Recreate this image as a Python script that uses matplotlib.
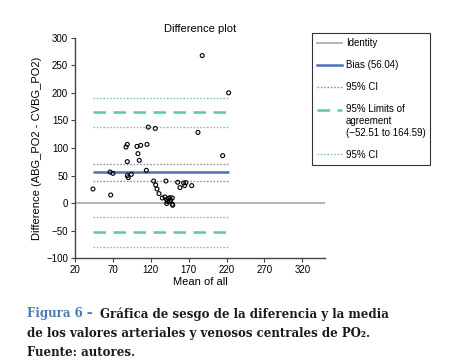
import matplotlib
matplotlib.use('Agg')
import matplotlib.pyplot as plt
from matplotlib.lines import Line2D
from matplotlib.legend_handler import HandlerLine2D

# mean of all (x) and difference (y)
mean_all = [43.7, 67.1, 66.2, 70.1, 87.3, 89.0, 89.0, 89.0, 90.3, 94.3,
            101.8, 103.1, 104.8, 106.7, 114.1, 115.0, 116.7, 125.9, 123.8, 126.5,
            128.2, 130.8, 135.2, 140.0, 155.5, 158.5, 163.4, 164.7, 166.4, 174.0,
            182.3, 214.9, 187.9, 222.8, 138.7, 141.0, 143.1, 145.3, 148.4, 141.8,
            144.4, 141.0, 148.4, 146.3, 149.0]
difference = [25.9, 15.0, 56.6, 54.2, 101.8, 106.7, 75.4, 50.0, 46.5, 52.4,
              103.0, 89.9, 77.8, 104.9, 59.7, 106.7, 138.0, 135.6, 40.3, 33.1,
              25.9, 17.5, 9.6, 40.3, 38.0, 28.4, 36.7, 32.0, 37.4, 32.0,
              128.4, 86.3, 267.6, 200.2, 11.4, 6.7, 8.5, 10.3, 9.6, 3.1,
              3.1, -0.5, -1.8, 5.4, -3.6]

bias = 56.04
bias_ci = [40.4, 71.6]
loa = [-52.51, 164.59]
loa_ci = [[-79.5, -25.5], [137.6, 191.6]]

x_ticks = [20, 70, 120, 170, 220, 270, 320]
y_ticks = [-100, -50, 0, 50, 100, 150, 200, 250, 300]

c_ident = '#a8a8a8'
c_bias = '#4a72b8'
c_bias_ci = '#8f8fb0'
c_loa = '#5ec4b6'
c_loa_ci = '#8cbcbc'


class RaisedLine(HandlerLine2D):
    # puts the handle on the first line of a multi-line label
    def __init__(self, shift, **kw):
        super().__init__(**kw)
        self.shift = shift

    def create_artists(self, legend, orig_handle, xdescent, ydescent,
                       width, height, fontsize, trans):
        arts = super().create_artists(legend, orig_handle, xdescent, ydescent,
                                      width, height, fontsize, trans)
        for a in arts:
            a.set_ydata([y + self.shift * fontsize for y in a.get_ydata()])
        return arts


plt.rcParams['font.family'] = ['Liberation Sans', 'DejaVu Sans']

fig = plt.figure(figsize=(4.5, 3.64), dpi=100)
ax = fig.add_axes([0.1667, 0.290, 0.5556, 0.6064])

x0, x1 = min(mean_all), max(mean_all)
ax.axhline(0, color=c_ident, lw=1.2, zorder=1)
ax.hlines(bias, x0, x1, color=c_bias, lw=1.8, zorder=2)
ax.hlines(bias_ci, x0, x1, color=c_bias_ci, lw=1.0, linestyles=(0, (1.2, 1.2)), zorder=2)
ax.hlines(loa, x0, x1, color=c_loa, lw=1.8, linestyles=(0, (5, 3)), zorder=2)
for ci in loa_ci:
    ax.hlines(ci, x0, x1, color=c_loa_ci, lw=1.0, linestyles=(0, (1.2, 1.2)), zorder=2)
ax.scatter(mean_all, difference, s=8, facecolors='none', edgecolors='black',
           linewidths=0.8, zorder=3)

ax.set_xlim(20, 350)
ax.set_ylim(-100, 300)
ax.set_xticks(x_ticks)
ax.set_yticks(y_ticks)
ax.set_yticklabels([str(v).replace('-', '\u2212') for v in y_ticks])
ax.tick_params(labelsize=7, length=3, width=0.8, color='#444444', pad=2)
for s in ['top', 'right']:
    ax.spines[s].set_visible(False)
for s in ['left', 'bottom']:
    ax.spines[s].set_color('#444444')
    ax.spines[s].set_linewidth(1.0)
ax.set_title('Difference plot', fontsize=8, pad=4)
ax.set_xlabel('Mean of all', fontsize=8, labelpad=1)
ax.set_ylabel('Difference (ABG_PO2 - CVBG_PO2)', fontsize=8, labelpad=3)

h_loa = Line2D([], [], color=c_loa, lw=1.8, ls=(0, (5, 3)))
handles = [
    Line2D([], [], color=c_ident, lw=1.2),
    Line2D([], [], color=c_bias, lw=1.8),
    Line2D([], [], color=c_bias_ci, lw=1.0, ls=(0, (1.2, 1.2))),
    h_loa,
    Line2D([], [], color=c_loa_ci, lw=1.0, ls=(0, (1.2, 1.2))),
]
labels = ['Identity', 'Bias (56.04)', '95% CI',
          '95% Limits of\nagreement\n(\u221252.51 to 164.59)', '95% CI']
leg = fig.legend(handles, labels, loc='upper left', bbox_to_anchor=(0.693, 0.909),
                 fontsize=7, frameon=True, fancybox=False, edgecolor='black',
                 handlelength=2.6, handletextpad=0.4, labelspacing=1.25,
                 borderpad=0.5, borderaxespad=0,
                 handler_map={h_loa: RaisedLine(1.2)})
leg.get_frame().set_linewidth(0.8)

# caption under the chart
cap = dict(family='DejaVu Serif', fontweight='bold', fontsize=8.5)
t1 = fig.text(0.06, 1 - 314 / 364, 'Figura 6 \u2013', color='#4a7ab5', va='center', **cap)
ax.annotate('Gr\u00e1fica de sesgo de la diferencia y la media', xy=(1, 0.5),
            xycoords=t1, xytext=(5, 0), textcoords='offset points',
            va='center', ha='left', color='#1a1a1a', annotation_clip=False, **cap)
fig.text(0.06, 1 - 333.5 / 364, 'de los valores arteriales y venosos centrales de PO\u2082.',
         color='#1a1a1a', va='center', **cap)
fig.text(0.06, 1 - 353 / 364, 'Fuente: autores.', color='#1a1a1a', va='center', **cap)

fig.savefig('out.png', dpi=100)
